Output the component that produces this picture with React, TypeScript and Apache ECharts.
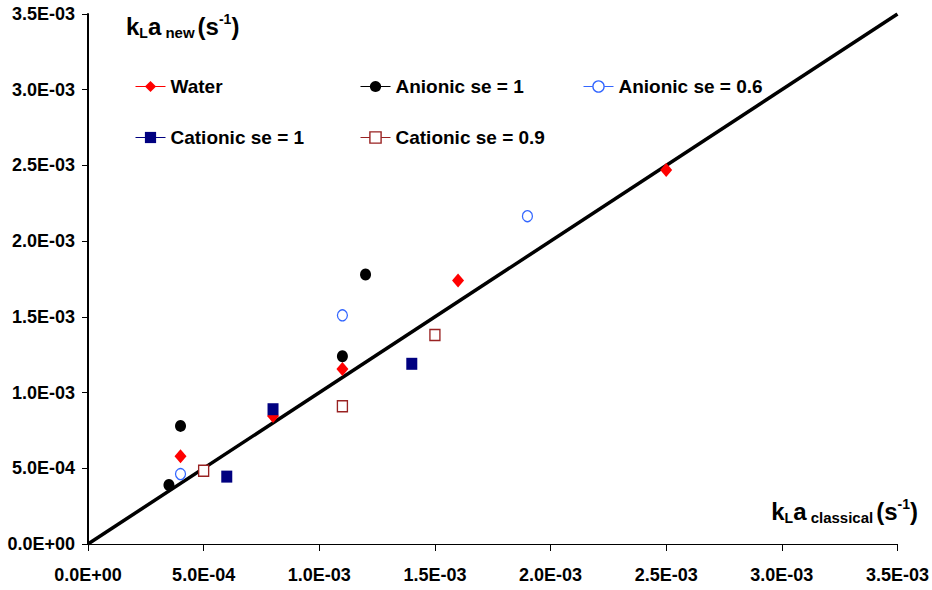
import React, { useEffect, useRef } from "react";
import * as echarts from "echarts";

const axisMin = 0;
const axisMax = 0.0035;
const axisStep = 0.0005;

const seriesNames = ["Water", "Anionic se = 1", "Anionic se = 0.6", "Cationic se = 1", "Cationic se = 0.9"];

const waterX = [0.0004, 0.0008, 0.0011, 0.0016, 0.0025];
const waterY = [0.00058, 0.000845, 0.001155, 0.00174, 0.00247];

const anionic1X = [0.00035, 0.0004, 0.0011, 0.0012];
const anionic1Y = [0.00039, 0.00078, 0.00124, 0.00178];

const anionic06X = [0.0004, 0.0011, 0.0019];
const anionic06Y = [0.000462, 0.00151, 0.002165];

const cationic1X = [0.0006, 0.0008, 0.0014];
const cationic1Y = [0.000445, 0.00089, 0.00119];

const cationic09X = [0.0005, 0.0011, 0.0015];
const cationic09Y = [0.000484, 0.00091, 0.00138];

const identityLine = [0, 0.0035];

const FONT = "'Liberation Sans', Arial, sans-serif";

function fmt(v: number): string {
  if (Math.abs(v) < 1e-12) return "0.0E+00";
  const s = v.toExponential(1);
  const [m, e] = s.split("e");
  const n = parseInt(e, 10);
  const sign = n < 0 ? "-" : "+";
  const a = Math.abs(n);
  return `${m}E${sign}${a < 10 ? "0" + a : a}`;
}

const pairs = (xs: number[], ys: number[]) => xs.map((x, i) => [x, ys[i]]);

type Style = { symbol: string; size: number | number[]; fill: string; stroke: string; bw: number; line: string };
const styles: Style[] = [
  { symbol: "diamond", size: [12, 14], fill: "#ff0000", stroke: "#ff0000", bw: 0, line: "#ff0000" },
  { symbol: "circle", size: [11, 12], fill: "#000000", stroke: "#000000", bw: 0, line: "#000000" },
  { symbol: "circle", size: [10, 11], fill: "#ffffff", stroke: "#3366ff", bw: 1.3, line: "#3366ff" },
  { symbol: "rect", size: [11, 12], fill: "#000080", stroke: "#000080", bw: 0, line: "#000080" },
  { symbol: "rect", size: [10, 11], fill: "#ffffff", stroke: "#992222", bw: 1.4, line: "#992222" },
];
const seriesData = [
  pairs(waterX, waterY),
  pairs(anionic1X, anionic1Y),
  pairs(anionic06X, anionic06Y),
  pairs(cationic1X, cationic1Y),
  pairs(cationic09X, cationic09Y),
];
const legendPos = [
  { left: 135, top: 77 },
  { left: 360, top: 77 },
  { left: 583, top: 77 },
  { left: 135, top: 128 },
  { left: 360, top: 128 },
];

export default function App() {
  const ref = useRef<HTMLDivElement>(null);
  useEffect(() => {
    if (!ref.current) return;
    const chart = echarts.init(ref.current, null, { renderer: "svg" });
    const mainRich = {
      m: { fontSize: 24, fontWeight: "bold", fontFamily: FONT, color: "#000", lineHeight: 28 },
      sub: { fontSize: 14, fontWeight: "bold", fontFamily: FONT, color: "#000", lineHeight: 12, verticalAlign: "bottom" },
      sub2: { fontSize: 15, fontWeight: "bold", fontFamily: FONT, color: "#000", lineHeight: 12, verticalAlign: "bottom", padding: [0, 3, 0, 0] },
      sup: { fontSize: 14, fontWeight: "bold", fontFamily: FONT, color: "#000", lineHeight: 14, verticalAlign: "top" },
    };
    const option: any = {
      animation: false,
      backgroundColor: "#ffffff",
      grid: { left: 88, right: 34, top: 14, bottom: 46, containLabel: false },
      xAxis: {
        type: "value",
        min: axisMin,
        max: axisMax,
        interval: axisStep,
        splitLine: { show: false },
        axisLine: { show: true, onZero: false, lineStyle: { color: "#000", width: 1 } },
        axisTick: { show: true, length: 7, lineStyle: { color: "#000" } },
        axisLabel: { formatter: fmt, color: "#000", fontSize: 18, fontWeight: "bold", fontFamily: FONT, margin: 22 },
      },
      yAxis: {
        type: "value",
        min: axisMin,
        max: axisMax,
        interval: axisStep,
        splitLine: { show: false },
        axisLine: { show: true, onZero: false, lineStyle: { color: "#000", width: 2 } },
        axisTick: { show: true, length: 6, lineStyle: { color: "#000", width: 1 } },
        axisLabel: { formatter: fmt, color: "#000", fontSize: 18, fontWeight: "bold", fontFamily: FONT, margin: 13 },
      },
      legend: seriesNames.map((name, i) => ({
        data: [
          {
            name,
            itemStyle: { color: styles[i].fill, borderColor: styles[i].stroke, borderWidth: styles[i].bw, opacity: 1 },
            lineStyle: { color: styles[i].line, width: 1, opacity: 1 },
          },
        ],
        left: legendPos[i].left,
        top: legendPos[i].top,
        padding: 0,
        itemWidth: 30,
        itemHeight: 14,
        selectedMode: false,
        textStyle: { color: "#000", fontSize: 19, fontWeight: "bold", fontFamily: FONT },
      })),
      graphic: [
        {
          type: "text",
          left: 126,
          top: 12,
          style: {
            text: "{m|k}{sub|L}{m|a}{sub2| new}{m|(s}{sup|-1}{m|)}",
            rich: mainRich,
          },
        },
        {
          type: "text",
          right: 14,
          top: 497,
          style: {
            text: "{m|k}{sub|L}{m|a}{sub2| classical}{m|(s}{sup|-1}{m|)}",
            rich: mainRich,
          },
        },
      ],
      series: [
        {
          name: "identity",
          type: "line",
          data: identityLine.map((v) => [v, v]),
          showSymbol: false,
          symbol: "none",
          silent: true,
          lineStyle: { color: "#000", width: 3.5 },
          z: 1,
        },
        ...seriesNames.map((name, i) => ({
          name,
          type: "line",
          data: seriesData[i],
          symbol: styles[i].symbol,
          symbolSize: styles[i].size,
          showSymbol: true,
          itemStyle: { color: styles[i].fill, borderColor: styles[i].stroke, borderWidth: styles[i].bw },
          lineStyle: { color: styles[i].line, width: 1, opacity: 0 },
          z: 3 + i,
        })),
      ],
    };
    chart.setOption(option);
    return () => chart.dispose();
  }, []);
  return <div ref={ref} style={{ position: "absolute", left: 0, top: 0, width: 932, height: 590 }} />;
}
